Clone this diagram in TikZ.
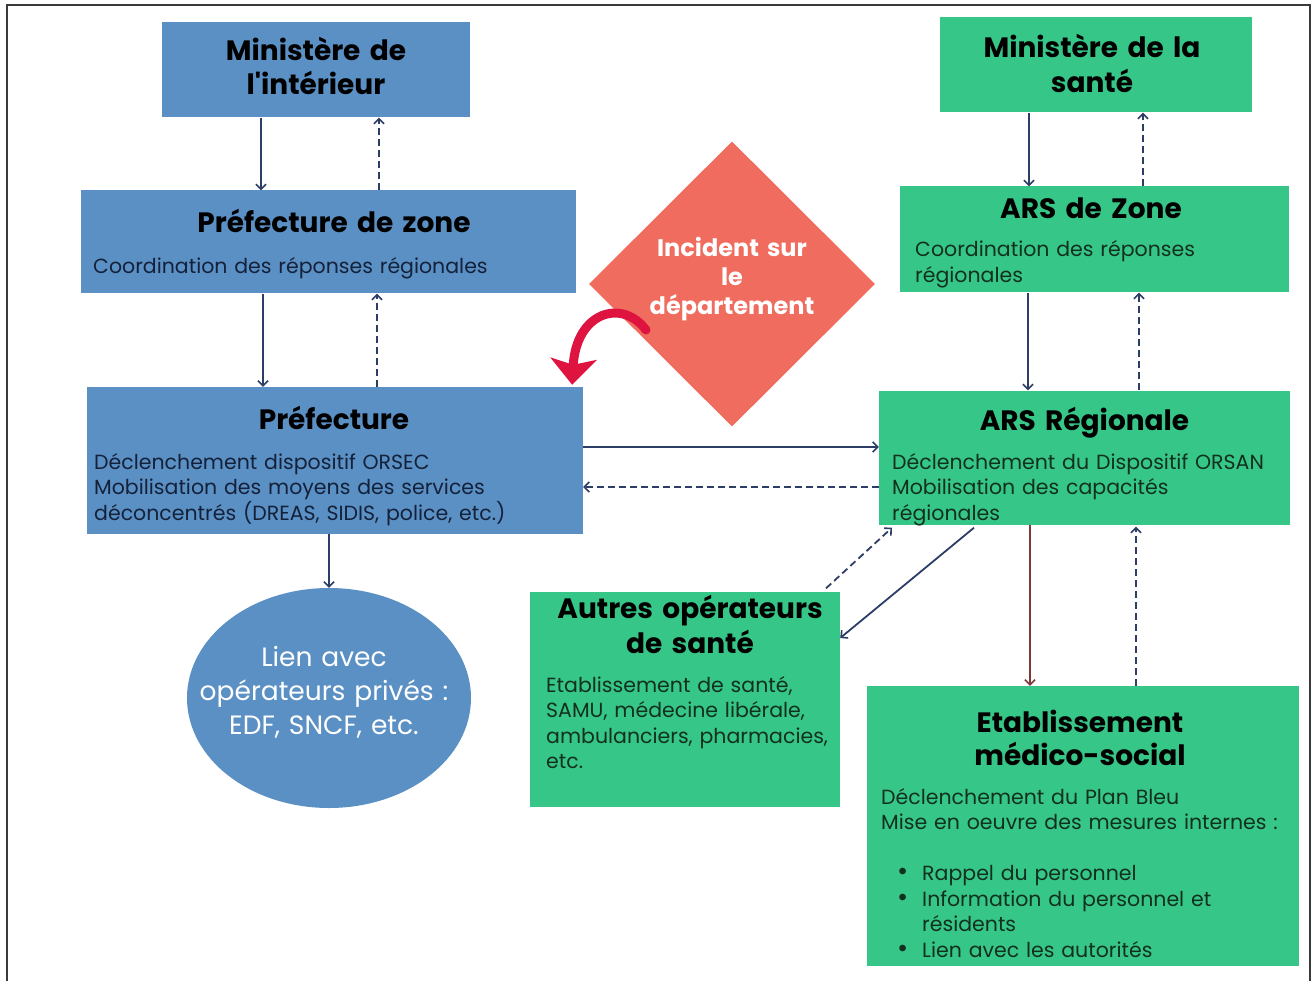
\documentclass[tikz,border=0pt]{standalone}
\usepackage{fontspec}
\setmainfont{Poppins}[Ligatures=TeXOff]
\usetikzlibrary{arrows.meta,shapes.geometric}
\definecolor{cBlue}{HTML}{5B90C4}
\definecolor{cGreen}{HTML}{36C788}
\definecolor{cDiam}{HTML}{EF6C5E}
\definecolor{cRed}{HTML}{DE1340}
\definecolor{cNavy}{HTML}{2C3E66}
\definecolor{cBrown}{HTML}{7B3A3A}
\definecolor{cBlueTxt}{HTML}{14213A}
\definecolor{cGreenTxt}{HTML}{12301F}
\definecolor{cFrame}{HTML}{3A3A3A}
\newcommand{\bul}{\makebox[41pt][l]{\hspace{16pt}{\fontsize{27}{25.5}\selectfont\textbullet}}}
\begin{document}
\begin{tikzpicture}[x=1pt,y=-1pt,
  bx/.style={rectangle, inner sep=0pt, draw=none},
  ttl/.style={font=\fontsize{28}{34}\selectfont\bfseries, text=black, align=center, anchor=base, inner sep=0pt, text width=400pt},
  bodyb/.style={font=\fontsize{20.5}{25.5}\selectfont, text=cBlueTxt, align=left, anchor=base west, inner sep=0pt, text width=460pt},
  bodyg/.style={bodyb, text=cGreenTxt},
  conn/.style={draw=cNavy, line width=1.8pt, -{Straight Barb[length=5pt,width=10pt,line width=1.6pt]}},
  dsh/.style={conn, dash pattern=on 7pt off 4pt}
]
\useasboundingbox (0,0) rectangle (1316,981);
\fill[white] (0,0) rectangle (1316,981);
\draw[cFrame, line width=1.6pt] (7,985) -- (7,5) -- (1310,5) -- (1310,985);

% blue side
\node[bx, fill=cBlue, minimum width=308pt, minimum height=95pt] (mi) at (316,70) {};
\node[ttl] (mit) at (316,61) {Ministère de\\l'intérieur};

\node[bx, fill=cBlue, minimum width=495pt, minimum height=103pt] (pz) at (328.5,242) {};
\node[ttl] (pzt) at (334,233) {Préfecture de zone};
\node[bodyb] (pzb) at (93,274) {Coordination des réponses régionales};

\node[bx, fill=cBlue, minimum width=496pt, minimum height=147pt] (pf) at (335,460.5) {};
\node[ttl] (pft) at (334,429) {Préfecture};
\node[bodyb] (pfb) at (94,469) {Déclenchement dispositif ORSEC\\Mobilisation des moyens des services\\déconcentrés (DREAS, SIDIS, police, etc.)};

\node[ellipse, fill=cBlue, inner sep=0pt, minimum width=284pt, minimum height=220pt] (el) at (329,698) {};
\node[font=\fontsize{26.5}{34}\selectfont, text=white, align=center, anchor=base, inner sep=0pt, text width=280pt] (elt) at (324,666) {Lien avec\\opérateurs privés :\\EDF, SNCF, etc.};

% incident
\node[diamond, fill=cDiam, inner sep=0pt, minimum width=286pt, minimum height=285pt] (inc) at (732,284) {};
\node[font=\fontsize{24}{29}\selectfont\bfseries, text=white, align=center, anchor=base, inner sep=0pt, text width=200pt] (inct) at (732,257) {Incident sur\\le\\département};

% green side
\node[bx, fill=cGreen, minimum width=312pt, minimum height=95pt] (ms) at (1096,65) {};
\node[ttl, font=\fontsize{28}{35}\selectfont\bfseries] (mst) at (1092,58) {Ministère de la\\santé};

\node[bx, fill=cGreen, minimum width=389pt, minimum height=106pt] (az) at (1094,239.5) {};
\node[ttl] (azt) at (1091,219) {ARS de Zone};
\node[bodyg] (azb) at (915,257) {Coordination des réponses\\régionales};

\node[bx, fill=cGreen, minimum width=411pt, minimum height=134pt] (ar) at (1084.5,457.5) {};
\node[ttl] (art) at (1084.5,430) {ARS Régionale};
\node[bodyg] (arb) at (892,469) {Déclenchement du Dispositif ORSAN\\Mobilisation des capacités\\régionales};

\node[bx, fill=cGreen, minimum width=310pt, minimum height=215pt] (ao) at (685,699) {};
\node[ttl, font=\fontsize{28}{35}\selectfont\bfseries] (aot) at (690,618) {Autres opérateurs\\de santé};
\node[bodyg] (aob) at (546,692) {Etablissement de santé,\\SAMU, médecine libérale,\\ambulanciers, pharmacies,\\etc.};

\node[bx, fill=cGreen, minimum width=432pt, minimum height=280pt] (et) at (1083,826) {};
\node[ttl, font=\fontsize{28}{33}\selectfont\bfseries] (ett) at (1080,732) {Etablissement\\médico-social};
\node[bodyg] (etb) at (881,804) {Déclenchement du Plan Bleu\\Mise en oeuvre des mesures internes :\\[25.5pt]%
\bul Rappel du personnel\\
\bul Information du personnel et\\
\makebox[41pt][l]{}résidents\\
\bul Lien avec les autorités};

% connectors, blue side
\draw[conn] (mi.south -| 261,0) -- (pz.north -| 261,0);
\draw[dsh] (pz.north -| 379,0) -- (mi.south -| 379,0);
\draw[conn] (pz.south -| 263,0) -- (pf.north -| 263,0);
\draw[dsh] (pf.north -| 377,0) -- (pz.south -| 377,0);
\draw[conn] (pf.south -| el.north) -- (el.north);

% between the sides
\draw[conn] (pf.east |- 0,447) -- (ar.west |- 0,447);
\draw[dsh] (ar.west |- 0,487) -- (pf.east |- 0,487);

% green side
\draw[conn] (ms.south -| 1029,0) -- (az.north -| 1029,0);
\draw[dsh] (az.north -| 1143,0) -- (ms.south -| 1143,0);
\draw[conn] (az.south -| 1028,0) -- (ar.north -| 1028,0);
\draw[dsh] (ar.north -| 1139,0) -- (az.south -| 1139,0);
\draw[conn] ([yshift=-3pt]ar.south -| 974,0) -- (ao.east |- 0,638);
\draw[dsh] ([yshift=3pt]ao.north -| 826,0) -- ([yshift=-3pt]ar.south -| 892,0);
\draw[conn, draw=cBrown, line width=1.6pt] (ar.south -| 1030,0) -- (et.north -| 1030,0);
\draw[dsh] (et.north -| 1136,0) -- ([yshift=-2pt]ar.south -| 1136,0);

% red curved arrow from the incident to the prefecture
\draw[cRed, line width=9pt, line cap=round, -{Stealth[length=26pt,width=46pt,inset=6pt]}]
  ([shift={(-86,46)}]inc.center) .. controls (622,298) and (576,312) .. ([xshift=-11pt,yshift=2pt]pf.north east);
\end{tikzpicture}
\end{document}
